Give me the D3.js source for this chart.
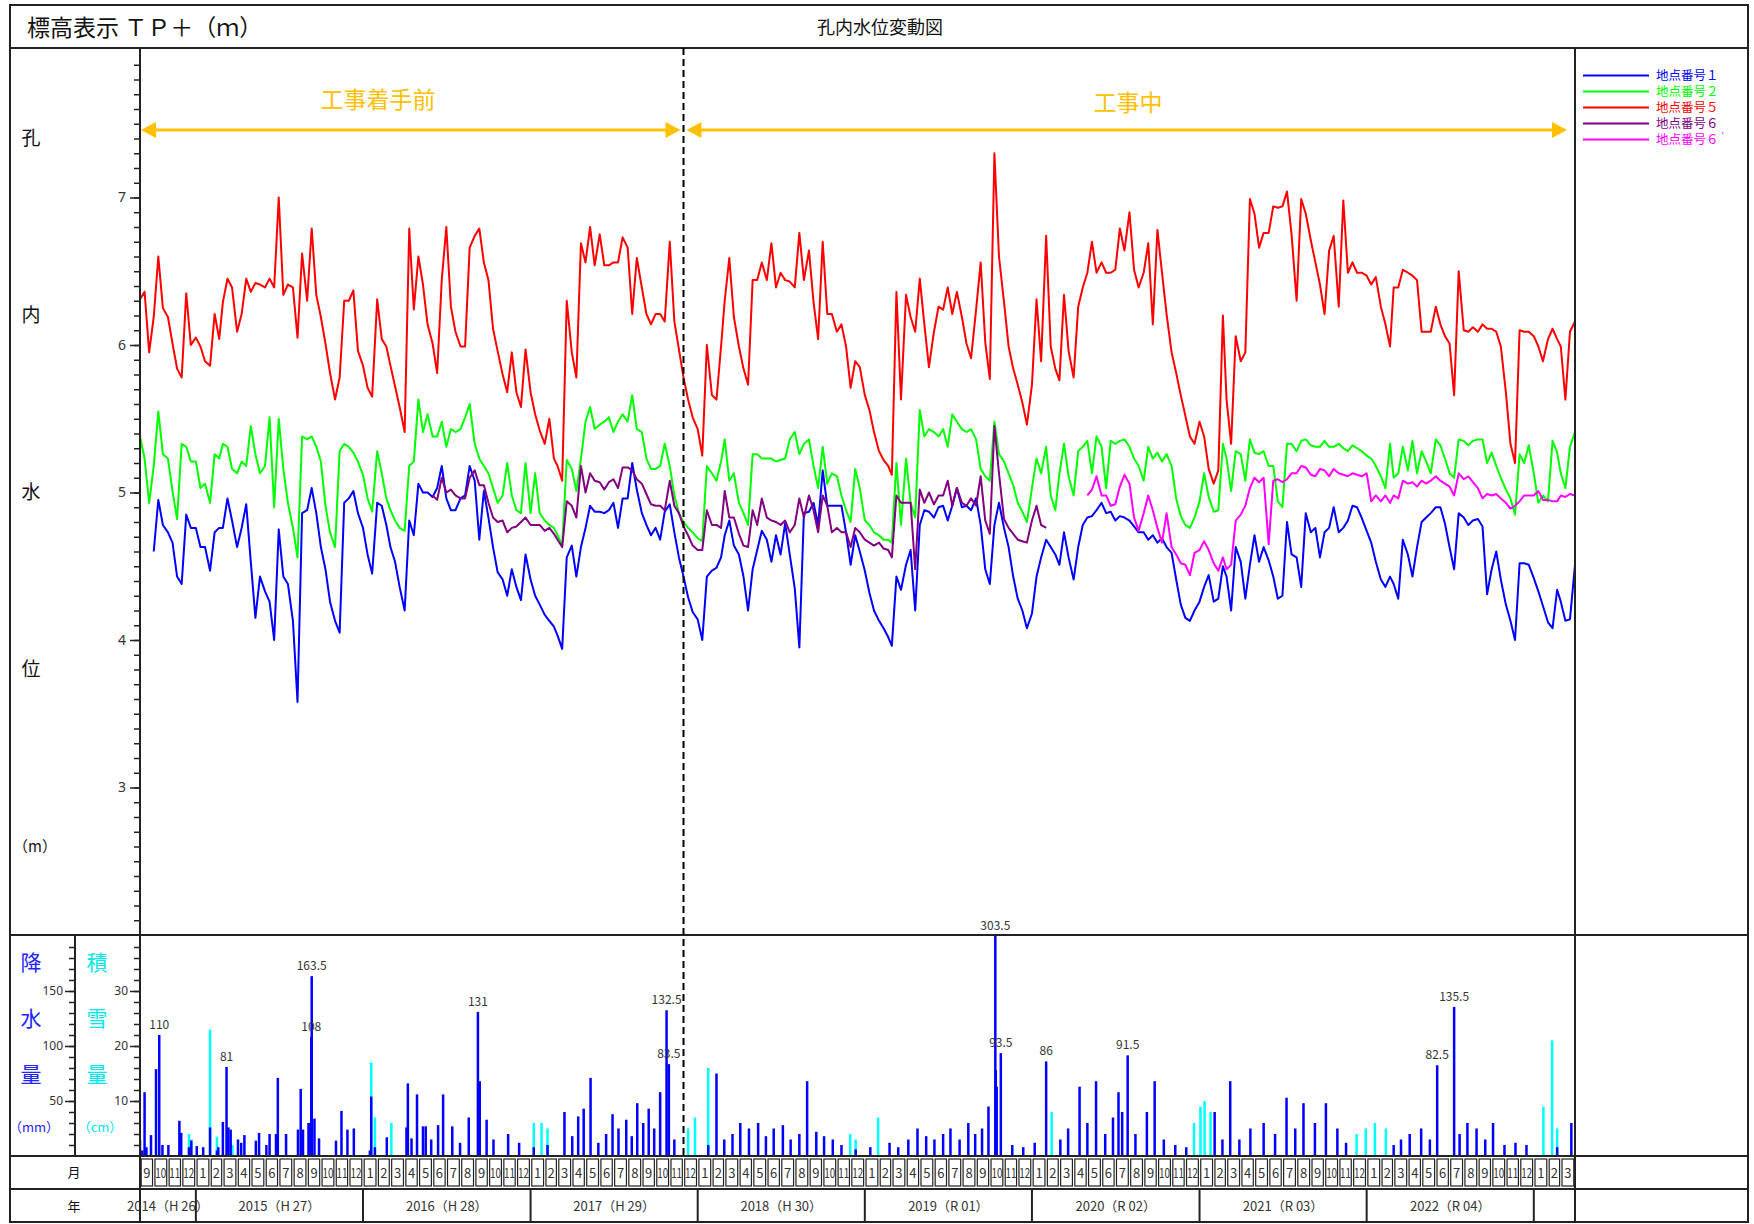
<!DOCTYPE html>
<meta charset="utf-8">
<style>
body { margin: 0; background: #fff; }
text { font-family: "Noto Sans CJK JP", "Noto Sans", sans-serif; }
</style>
<body>
<svg width="1754" height="1224"></svg>
<script src="https://d3js.org/d3.v7.min.js"></script>
<script>
// water level samples: 3 per month (1st, 11th, 21st), index 0 = 2014-09-01
var level1Start = 3;   // 地点番号1
var level1 = [4.6,4.95,4.78,4.73,4.66,4.43,4.38,4.85,4.76,4.76,4.63,4.63,4.47,4.73,4.76,4.76,4.96,4.81,
  4.63,4.76,4.92,4.53,4.15,4.43,4.33,4.26,4.0,4.75,4.43,4.38,4.13,3.58,4.86,4.88,5.03,4.86,
  4.63,4.48,4.26,4.13,4.05,4.93,4.96,5.01,4.86,4.76,4.58,4.45,4.93,4.91,4.78,4.63,4.53,4.36,
  4.2,4.81,4.71,5.06,5.0,5.0,4.97,5.03,5.18,4.96,4.88,4.88,4.96,4.98,5.18,5.08,4.68,5.01,
  4.83,4.63,4.46,4.41,4.3,4.48,4.36,4.27,4.58,4.41,4.3,4.24,4.17,4.13,4.09,4.03,3.94,4.56,
  4.64,4.43,4.63,4.76,4.91,4.87,4.87,4.86,4.88,4.93,4.76,4.96,4.96,5.2,5.02,4.86,4.78,4.71,
  4.76,4.68,4.87,4.92,4.73,4.56,4.43,4.29,4.19,4.14,4.0,4.43,4.47,4.49,4.56,4.71,4.81,4.64,
  4.58,4.43,4.2,4.48,4.61,4.74,4.68,4.53,4.71,4.58,4.79,4.58,4.35,3.95,4.86,4.87,4.93,4.78,
  5.15,4.91,4.91,4.91,4.91,4.73,4.51,4.71,4.6,4.47,4.32,4.2,4.13,4.08,4.02,3.96,4.43,4.34,
  4.51,4.61,4.2,4.78,4.88,4.87,4.83,4.9,4.91,4.81,4.91,5.03,4.9,4.91,4.88,4.96,4.78,4.48,
  4.38,4.78,4.93,4.76,4.63,4.43,4.28,4.2,4.08,4.18,4.43,4.56,4.68,4.63,4.58,4.51,4.73,4.56,
  4.41,4.63,4.78,4.83,4.84,4.88,4.93,4.86,4.87,4.81,4.84,4.83,4.81,4.77,4.73,4.73,4.68,4.71,
  4.66,4.69,4.63,4.59,4.41,4.24,4.15,4.13,4.2,4.26,4.36,4.44,4.26,4.28,4.5,4.43,4.2,4.63,
  4.53,4.28,4.51,4.71,4.53,4.63,4.54,4.43,4.28,4.3,4.8,4.58,4.56,4.36,4.86,4.73,4.76,4.56,
  4.73,4.76,4.9,4.73,4.76,4.81,4.91,4.9,4.83,4.74,4.66,4.53,4.41,4.36,4.43,4.38,4.28,4.68,
  4.58,4.43,4.63,4.8,4.83,4.86,4.9,4.9,4.79,4.63,4.48,4.86,4.83,4.78,4.81,4.82,4.77,4.31,
  4.48,4.6,4.41,4.24,4.13,4.0,4.52,4.52,4.51,4.42,4.33,4.23,4.12,4.08,4.34,4.26,4.13,4.14,4.51];

var level2Start = 0;   // 地点番号2
var level2 = [5.38,5.23,4.93,5.18,5.55,5.26,5.23,5.01,4.82,5.33,5.31,5.21,5.21,5.03,5.06,4.93,5.26,5.23,
  5.33,5.31,5.16,5.13,5.21,5.18,5.45,5.26,5.13,5.18,5.51,4.9,5.5,5.16,4.93,4.76,4.56,5.38,
  5.36,5.38,5.31,5.21,4.91,4.73,4.63,5.28,5.33,5.31,5.27,5.21,5.12,4.96,4.87,5.28,5.13,4.96,
  4.88,4.81,4.76,4.74,5.18,5.21,5.63,5.41,5.53,5.38,5.38,5.48,5.31,5.43,5.41,5.43,5.51,5.6,
  5.33,5.23,5.18,5.13,5.03,4.93,4.98,5.2,4.98,4.88,4.86,5.2,4.86,5.13,4.86,4.81,4.78,4.76,
  4.71,4.64,5.22,5.16,5.01,5.23,5.48,5.58,5.43,5.46,5.48,5.51,5.41,5.48,5.53,5.48,5.66,5.43,
  5.41,5.23,5.16,5.16,5.18,5.33,5.18,4.98,4.86,4.8,4.76,4.73,4.69,4.67,5.18,5.13,5.08,5.21,
  5.36,5.08,5.13,4.93,4.86,4.78,5.26,5.26,5.23,5.23,5.23,5.21,5.22,5.23,5.36,5.41,5.26,5.33,
  5.36,5.18,5.03,5.31,5.06,5.13,5.11,4.98,4.88,4.8,5.16,5.03,4.81,4.78,4.73,4.71,4.68,4.68,
  4.66,5.2,4.78,5.23,4.93,4.83,5.56,5.38,5.43,5.41,5.38,5.43,5.31,5.53,5.48,5.43,5.41,5.43,
  5.36,5.16,5.11,5.08,5.48,5.26,5.21,5.13,5.05,4.93,4.87,4.8,5.03,5.23,5.13,5.31,4.98,4.88,
  5.13,5.33,5.11,4.98,5.28,5.31,5.35,5.13,5.38,5.31,5.03,5.35,5.33,5.35,5.36,5.31,5.23,5.18,
  5.08,5.31,5.23,5.27,5.21,5.26,5.18,4.96,4.84,4.78,4.76,4.83,4.94,5.13,4.97,4.87,4.88,5.33,
  5.23,5.01,5.28,5.26,5.08,5.36,5.27,5.26,5.28,5.18,5.18,4.94,4.9,5.33,5.33,5.28,5.35,5.36,
  5.32,5.31,5.31,5.35,5.31,5.31,5.33,5.3,5.28,5.32,5.3,5.28,5.25,5.23,5.18,5.11,5.03,5.33,
  5.1,5.13,5.31,5.15,5.35,5.13,5.28,5.21,5.13,5.36,5.32,5.23,5.13,5.1,5.36,5.35,5.32,5.35,
  5.36,5.36,5.2,5.27,5.18,5.1,5.02,4.96,4.85,5.26,5.2,5.32,5.13,4.93,4.98,4.94,5.35,5.27,
  5.13,5.03,5.31,5.41];

var level5Start = 0;   // 地点番号5
var level5 = [6.31,6.36,5.95,6.19,6.6,6.25,6.19,6.01,5.84,5.78,6.35,6.0,6.05,5.99,5.89,5.86,6.21,6.04,
  6.29,6.45,6.39,6.09,6.21,6.45,6.36,6.42,6.41,6.39,6.45,6.39,7.0,6.34,6.41,6.39,6.05,6.62,
  6.3,6.79,6.34,6.19,6.01,5.81,5.63,5.78,6.3,6.3,6.37,5.96,5.86,5.71,5.65,6.31,6.04,5.99,
  5.86,5.72,5.58,5.41,6.79,6.24,6.6,6.41,6.14,6.01,5.81,6.44,6.8,6.26,6.09,5.99,5.99,6.66,
  6.74,6.79,6.56,6.44,6.11,5.96,5.8,5.68,5.95,5.68,5.58,5.97,5.68,5.53,5.42,5.33,5.5,5.23,
  5.18,5.08,6.3,5.95,5.78,6.69,6.56,6.8,6.54,6.75,6.54,6.54,6.56,6.56,6.73,6.66,6.21,6.59,
  6.39,6.21,6.14,6.21,6.21,6.16,6.7,6.16,5.97,5.78,5.63,5.51,5.43,5.25,6.0,5.66,5.63,5.99,
  6.3,6.59,6.19,5.99,5.84,5.73,6.44,6.44,6.56,6.44,6.69,6.39,6.49,6.44,6.43,6.39,6.76,6.44,
  6.64,6.29,6.04,6.7,6.21,6.21,6.09,6.14,5.99,5.71,5.89,5.85,5.66,5.56,5.41,5.28,5.22,5.18,
  5.12,6.36,5.63,6.34,6.19,6.09,6.45,6.14,5.85,6.09,6.26,6.24,6.39,6.21,6.36,6.19,6.01,5.91,
  6.24,6.56,6.02,5.77,7.3,6.6,6.29,5.99,5.84,5.73,5.61,5.46,5.73,6.31,5.89,6.74,5.99,5.84,
  5.76,6.34,5.96,5.78,6.26,6.39,6.49,6.7,6.49,6.56,6.49,6.49,6.51,6.79,6.64,6.9,6.51,6.39,
  6.49,6.69,6.14,6.78,6.49,6.21,5.95,5.81,5.66,5.52,5.38,5.33,5.48,5.38,5.16,5.06,5.15,6.2,
  5.63,5.33,6.06,5.89,5.95,6.99,6.89,6.66,6.76,6.76,6.94,6.93,6.94,7.04,6.75,6.3,6.99,6.89,
  6.71,6.56,6.41,6.21,6.64,6.74,6.26,6.98,6.49,6.56,6.49,6.49,6.47,6.41,6.46,6.26,6.14,5.99,
  6.39,6.39,6.51,6.49,6.47,6.44,6.09,6.09,6.09,6.26,6.14,6.06,6.01,5.66,6.5,6.1,6.09,6.12,
  6.09,6.14,6.11,6.11,6.09,5.99,5.68,5.33,5.2,6.1,6.09,6.09,6.06,5.99,5.89,6.04,6.11,6.04,
  5.99,5.63,6.09,6.16];

var level6Start = 63;  // 地点番号6
var level6 = [4.98,4.95,5.1,5.0,5.02,4.98,4.96,4.96,5.1,5.15,5.05,5.05,4.93,4.83,4.8,4.81,4.73,4.76,
  4.77,4.8,4.83,4.78,4.78,4.78,4.74,4.76,4.72,4.68,4.63,4.94,4.91,4.83,5.18,5.0,5.13,5.08,
  5.07,5.02,5.07,5.09,5.03,5.17,5.17,5.15,5.09,5.06,4.99,4.92,4.91,4.91,4.88,5.08,4.91,4.86,
  4.77,4.71,4.64,4.61,4.61,4.88,4.78,4.78,4.76,5.01,4.83,4.83,4.72,4.64,4.63,4.88,4.78,4.96,
  4.83,4.81,4.8,4.78,4.81,4.73,4.78,4.96,4.83,4.98,4.88,4.73,4.98,4.91,4.73,4.76,4.73,4.73,
  4.63,4.76,4.73,4.68,4.66,4.64,4.66,4.62,4.61,4.56,4.98,4.93,4.93,4.93,4.48,5.02,4.93,5.0,
  4.92,4.98,4.98,5.08,4.91,5.03,4.93,4.91,4.96,4.91,5.11,4.81,4.72,5.45,5.13,4.82,4.76,4.72,
  4.68,4.67,4.66,4.81,4.91,4.78,4.76];

var level6bStart = 204; // 地点番号6'
var level6b = [4.98,5.02,5.11,4.98,4.98,4.91,4.92,5.04,5.12,5.06,4.83,4.74,4.86,4.98,4.88,4.76,4.66,4.86,
  4.63,4.58,4.52,4.51,4.44,4.59,4.61,4.67,4.61,4.52,4.47,4.56,4.48,4.51,4.81,4.85,4.91,5.03,
  5.1,5.07,5.1,4.65,5.08,5.09,5.07,5.09,5.13,5.13,5.18,5.17,5.12,5.11,5.16,5.15,5.11,5.16,
  5.13,5.12,5.11,5.13,5.12,5.11,5.13,4.94,4.98,4.94,4.98,4.93,4.98,4.96,5.08,5.06,5.07,5.04,
  5.08,5.06,5.08,5.11,5.08,5.06,5.04,4.98,5.13,5.09,5.11,5.07,5.03,4.96,4.99,4.98,4.99,4.96,
  4.93,4.89,4.91,4.94,4.98,4.98,4.98,5.01,4.95,4.95,4.94,4.94,4.98,4.97,4.99,4.98];

// daily rainfall (mm)
var rainDays = ["2014-09-01","2014-09-06","2014-09-11","2014-09-15","2014-09-25","2014-10-06","2014-10-13","2014-10-20",
  "2014-11-02","2014-11-26","2014-11-30","2014-12-17","2014-12-22","2015-01-03","2015-01-17","2015-02-01","2015-02-16",
  "2015-02-19","2015-03-01","2015-03-09","2015-03-13","2015-03-18","2015-04-03","2015-04-10","2015-04-17","2015-05-12",
  "2015-05-19","2015-06-04","2015-06-11","2015-06-25","2015-06-29","2015-07-17","2015-08-12","2015-08-18","2015-08-23",
  "2015-09-04","2015-09-08","2015-09-10","2015-09-11","2015-09-17","2015-09-27","2015-11-03","2015-11-15","2015-11-28",
  "2015-12-12","2016-01-16","2016-01-19","2016-01-27","2016-02-22","2016-04-05","2016-04-08","2016-04-16","2016-04-28",
  "2016-05-11","2016-05-17","2016-05-29","2016-06-13","2016-06-24","2016-07-14","2016-07-31","2016-08-19","2016-09-08",
  "2016-09-12","2016-09-27","2016-10-12","2016-11-13","2016-12-07","2017-01-08","2017-02-07","2017-03-16","2017-04-02",
  "2017-04-15","2017-04-27","2017-05-12","2017-05-29","2017-06-15","2017-06-29","2017-07-12","2017-07-29","2017-08-10",
  "2017-08-22","2017-09-04","2017-09-16","2017-09-28","2017-10-11","2017-10-25","2017-10-30","2017-11-11","2018-01-24",
  "2018-02-11","2018-02-28","2018-03-18","2018-04-04","2018-04-23","2018-05-13","2018-05-30","2018-06-16","2018-07-06",
  "2018-07-23","2018-08-11","2018-08-28","2018-09-17","2018-10-04","2018-10-23","2018-11-11","2018-12-12","2019-01-13",
  "2019-02-24","2019-03-15","2019-04-06","2019-04-26","2019-05-15","2019-06-02","2019-06-21","2019-07-07","2019-07-27",
  "2019-08-15","2019-08-30","2019-09-14","2019-09-28","2019-10-13","2019-10-14","2019-10-16","2019-10-25","2019-11-19",
  "2019-12-13","2020-01-07","2020-02-01","2020-03-03","2020-03-20","2020-04-14","2020-05-01","2020-05-20","2020-06-09",
  "2020-06-26","2020-07-08","2020-07-16","2020-07-28","2020-08-14","2020-09-08","2020-09-25","2020-10-15","2020-11-09",
  "2020-12-03","2021-02-03","2021-02-20","2021-03-09","2021-03-29","2021-04-22","2021-05-21","2021-06-15","2021-07-10",
  "2021-07-29","2021-08-16","2021-09-10","2021-10-04","2021-10-29","2021-11-17","2022-03-01","2022-03-17","2022-04-05",
  "2022-04-30","2022-05-19","2022-06-04","2022-07-11","2022-07-23","2022-08-09","2022-08-29","2022-09-17","2022-10-04",
  "2022-10-29","2022-11-22","2022-12-16","2023-02-21","2023-03-24"];
var rainMm = [14.5,5,58,8,19,79,110,10,
  10,32,21,8,14,9,8,26,5,
  8,31,81,26,24,15,12,19,14,
  21,10,20,20,71,20,24,61,24,
  30,30,108,163.5,34,16,14,41,24,
  25,5,54,8,17,26,66,16,56,
  27,27,15,28,56,27,12,35,131,
  68,33,15,20,12,8,10,40,18,
  36,43,71,12,20,38,25,33,18,
  48,30,43,25,58,132.5,83.5,15,10,
  75,15,20,30,25,30,18,25,28,
  15,20,68,22,18,15,10,6,8,
  12,8,15,25,18,15,20,25,15,
  30,20,25,45,303.5,78,63,93.5,10,
  8,12,86,15,25,63,30,68,20,
  35,58,40,91.5,20,40,68,15,10,
  8,40,15,68,15,25,30,20,53,
  25,48,30,48,25,12,10,15,20,
  25,15,82.5,135.5,20,30,25,15,30,
  10,12,10,8,30];

// snow depth (cm)
var snowDays = ["2014-12-17","2014-12-22","2015-02-01","2015-02-16","2015-03-22","2016-01-19","2016-01-27","2016-03-03",
  "2017-01-08","2017-01-25","2017-02-07","2017-12-11","2017-12-26","2018-01-24","2018-11-30","2018-12-12","2019-01-30",
  "2020-02-13","2020-12-20","2021-01-03","2021-01-12","2021-01-25","2021-12-10","2021-12-30","2022-01-19","2022-02-12",
  "2023-01-22","2023-02-10","2023-02-21"];
var snowCm = [4,3,23,3.5,2,17,7,6,
  6,6,5,5,7,16,4,3,7,
  8,6,9,10,8,4,5,6,5,
  9,21,5];

var monthLabels = ["1","2","3","4","5","6","7","8","9","10","11","12"];
var yearLabels = ["2014（H 26）","2015（H 27）","2016（H 28）","2017（H 29）","2018（H 30）",
  "2019（R 01）","2020（R 02）","2021（R 03）","2022（R 04）",""];

var series = [
  {name: "地点番号１", values: level1, start: level1Start, color: "#0000ff"},
  {name: "地点番号２", values: level2, start: level2Start, color: "#00ff00"},
  {name: "地点番号５", values: level5, start: level5Start, color: "#ff0000"},
  {name: "地点番号６", values: level6, start: level6Start, color: "#800080"},
  {name: "地点番号６", values: level6b, start: level6bStart, color: "#ff00ff", prime: true}
];

var svg = d3.select("svg");
var L = 140, R = 1575, plotTop = 48, plotBottom = 935, barBottom = 1156, monthBottom = 1189, frameBottom = 1222;
var ink = "#222";

function sampleDate(i) { return new Date(2014, 8 + Math.floor(i / 3), 1 + (i % 3) * 10); }
var parse = d3.timeParse("%Y-%m-%d");

var x = d3.scaleTime().domain([new Date(2014, 8, 1), new Date(2023, 3, 1)]).range([L, R]);
var y = d3.scaleLinear().domain([2, 8]).range([plotBottom, 50]);
var yRain = d3.scaleLinear().domain([0, 200]).range([barBottom, 936]);
var ySnow = d3.scaleLinear().domain([0, 40]).range([barBottom, 936]);

var defs = svg.append("defs");
defs.append("clipPath").attr("id", "plotClip")
  .append("rect").attr("x", L).attr("y", plotTop).attr("width", R - L).attr("height", plotBottom - plotTop);
defs.append("clipPath").attr("id", "barClip")
  .append("rect").attr("x", L).attr("y", plotBottom + 1).attr("width", R - L).attr("height", barBottom - plotBottom - 1);

// water level lines
var line = d3.line().x(d => x(d[0])).y(d => y(d[1]));
var lines = svg.append("g").attr("clip-path", "url(#plotClip)");
series.forEach(function(s) {
  var pts = s.values.map((v, k) => [sampleDate(s.start + k), v]);
  lines.append("path").datum(pts)
    .attr("d", line).attr("fill", "none")
    .attr("stroke", s.color).attr("stroke-width", 2).attr("stroke-linejoin", "round");
});

// snow and rain bars
var bars = svg.append("g").attr("clip-path", "url(#barClip)");
bars.selectAll(".snow").data(snowDays.map((d, k) => [parse(d), snowCm[k]])).enter()
  .append("rect").attr("class", "snow")
  .attr("x", d => x(d[0]) - 1.25).attr("width", 2.5)
  .attr("y", d => ySnow(d[1])).attr("height", d => barBottom - ySnow(d[1]))
  .attr("fill", "#00ffff");
var rain = rainDays.map((d, k) => [parse(d), rainMm[k]]);
bars.selectAll(".rain").data(rain).enter()
  .append("rect").attr("class", "rain")
  .attr("x", d => x(d[0]) - 1.25).attr("width", 2.5)
  .attr("y", d => yRain(d[1])).attr("height", d => barBottom - yRain(d[1]))
  .attr("fill", "#0000ff");
svg.selectAll(".rainLabel").data(rain.filter(d => d[1] >= 80)).enter()
  .append("text")
  .attr("x", d => x(d[0])).attr("y", d => Math.max(yRain(d[1]), 936) - 6)
  .attr("text-anchor", "middle").attr("font-size", 12).attr("fill", "#333")
  .text(d => d[1]);

// y axis of water level
var yAxis = svg.append("g").attr("transform", "translate(" + L + ",0)");
yAxis.call(d3.axisLeft(y).tickValues(d3.range(21, 80).map(v => v / 10)).tickSize(6).tickFormat(""));
yAxis.append("g").call(d3.axisLeft(y).tickValues([3, 4, 5, 6, 7]).tickSize(10).tickPadding(4).tickFormat(d3.format("d")));
yAxis.selectAll("text").attr("font-size", 14).attr("fill", "#333").style("font-family", "Noto Sans");
yAxis.selectAll("path").remove();
yAxis.selectAll("line").attr("stroke", ink).attr("stroke-width", 1.5);

// rain and snow axes
var rAxis = svg.append("g").attr("transform", "translate(75,0)");
rAxis.call(d3.axisLeft(yRain).tickValues(d3.range(10, 200, 10)).tickSize(6).tickFormat(""));
rAxis.append("g").call(d3.axisLeft(yRain).tickValues([50, 100, 150]).tickSize(10).tickPadding(2).tickFormat(d3.format("d")));
var sAxis = svg.append("g").attr("transform", "translate(" + L + ",0)");
sAxis.call(d3.axisLeft(ySnow).tickValues(d3.range(2, 40, 2)).tickSize(6).tickFormat(""));
sAxis.append("g").call(d3.axisLeft(ySnow).tickValues([10, 20, 30]).tickSize(10).tickPadding(2).tickFormat(d3.format("d")));
[rAxis, sAxis].forEach(function(a) {
  a.selectAll("path").remove();
  a.selectAll("line").attr("stroke", ink).attr("stroke-width", 1.5);
  a.selectAll("text").attr("font-size", 12).attr("fill", "#333").style("font-family", "Noto Sans");
});

// frame and grid lines
var frame = svg.append("g").attr("stroke", ink).attr("stroke-width", 2).attr("fill", "none");
frame.append("rect").attr("x", 10).attr("y", 5).attr("width", 1738).attr("height", frameBottom - 5);
[plotTop, plotBottom, barBottom, monthBottom].forEach(function(h) {
  frame.append("line").attr("x1", 10).attr("x2", 1748).attr("y1", h).attr("y2", h);
});
frame.append("line").attr("x1", L).attr("x2", L).attr("y1", plotTop).attr("y2", frameBottom);
frame.append("line").attr("x1", R).attr("x2", R).attr("y1", plotTop).attr("y2", frameBottom);
frame.append("line").attr("x1", 75).attr("x2", 75).attr("y1", plotBottom).attr("y2", barBottom);

// month cells
var months = d3.timeMonth.range(new Date(2014, 8, 1), new Date(2023, 3, 1));
var mg = svg.append("g");
mg.selectAll("rect").data(months).enter().append("rect")
  .attr("x", d => x(d) + 1.2).attr("width", d => x(d3.timeMonth.offset(d, 1)) - x(d) - 2.4)
  .attr("y", barBottom + 3).attr("height", monthBottom - barBottom - 6)
  .attr("fill", "none").attr("stroke", ink).attr("stroke-width", 1.2);
mg.selectAll("text").data(months).enter().append("text")
  .attr("x", d => (x(d) + x(d3.timeMonth.offset(d, 1))) / 2)
  .attr("y", (barBottom + monthBottom) / 2 + 5)
  .attr("text-anchor", "middle").attr("font-size", 13).attr("fill", "#333")
  .attr("textLength", d => d.getMonth() >= 9 ? 11 : null)
  .attr("lengthAdjust", "spacingAndGlyphs")
  .text(d => monthLabels[d.getMonth()]);

// year cells
var years = d3.range(2014, 2024);
var yg = svg.append("g");
years.forEach(function(yr, k) {
  var x0 = Math.max(x(new Date(yr, 0, 1)), L), x1 = Math.min(x(new Date(yr + 1, 0, 1)), R);
  if (yr > 2014) yg.append("line").attr("x1", x0).attr("x2", x0).attr("y1", monthBottom).attr("y2", frameBottom)
    .attr("stroke", ink).attr("stroke-width", 2);
  yg.append("text").attr("x", (x0 + x1) / 2).attr("y", (monthBottom + frameBottom) / 2 + 5)
    .attr("text-anchor", "middle").attr("font-size", 13).attr("fill", "#333").text(yearLabels[k]);
});

// construction start marker
var startDay = new Date(2017, 11, 1);
svg.append("line").attr("x1", x(startDay)).attr("x2", x(startDay)).attr("y1", plotTop).attr("y2", barBottom)
  .attr("stroke", "#000").attr("stroke-width", 2).attr("stroke-dasharray", "7,4");

var amber = "#ffc000";
function arrow(x0, x1, label) {
  var ay = 130, g = svg.append("g");
  g.append("line").attr("x1", x0 + 12).attr("x2", x1 - 12).attr("y1", ay).attr("y2", ay)
    .attr("stroke", amber).attr("stroke-width", 3);
  g.append("path").attr("d", "M" + x0 + "," + ay + "l15,-8v16z").attr("fill", amber);
  g.append("path").attr("d", "M" + x1 + "," + ay + "l-15,-8v16z").attr("fill", amber);
  g.append("text").attr("x", label[1]).attr("y", label[2]).attr("text-anchor", "middle")
    .attr("font-size", 23).attr("fill", amber).text(label[0]);
}
arrow(L + 1, x(startDay) - 3, ["工事着手前", 378, 108]);
arrow(x(startDay) + 3, 1567, ["工事中", 1128, 111]);

// header
svg.append("text").attr("x", 27).attr("y", 36).attr("font-size", 23).attr("fill", "#111").text("標高表示 ＴＰ＋（ｍ）");
svg.append("text").attr("x", 880).attr("y", 34).attr("text-anchor", "middle").attr("font-size", 18).attr("fill", "#111").text("孔内水位変動図");

// left labels
[["孔", 138], ["内", 315], ["水", 492], ["位", 669]].forEach(function(t) {
  svg.append("text").attr("x", 31).attr("y", t[1] + 7).attr("text-anchor", "middle")
    .attr("font-size", 19).attr("fill", "#111").text(t[0]);
});
svg.append("text").attr("x", 35).attr("y", 852).attr("text-anchor", "middle").attr("font-size", 15).attr("fill", "#111").text("（m）");

[["降", 962], ["水", 1018], ["量", 1074]].forEach(function(t) {
  svg.append("text").attr("x", 31).attr("y", t[1] + 8).attr("text-anchor", "middle")
    .attr("font-size", 21).attr("fill", "#2323ff").text(t[0]);
});
svg.append("text").attr("x", 34).attr("y", 1132).attr("text-anchor", "middle").attr("font-size", 13).attr("fill", "#2323ff").text("（mm）");
[["積", 962], ["雪", 1018], ["量", 1074]].forEach(function(t) {
  svg.append("text").attr("x", 97).attr("y", t[1] + 8).attr("text-anchor", "middle")
    .attr("font-size", 21).attr("fill", "#00e8e8").text(t[0]);
});
svg.append("text").attr("x", 100).attr("y", 1132).attr("text-anchor", "middle").attr("font-size", 13).attr("fill", "#00e8e8").text("（cm）");

svg.append("text").attr("x", 74).attr("y", 1177).attr("text-anchor", "middle").attr("font-size", 13).attr("fill", "#111").text("月");
svg.append("text").attr("x", 74).attr("y", 1211).attr("text-anchor", "middle").attr("font-size", 13).attr("fill", "#111").text("年");

// legend
var lg = svg.append("g");
series.forEach(function(s, k) {
  var ly = 75.5 + k * 16;
  lg.append("line").attr("x1", 1583).attr("x2", 1649).attr("y1", ly).attr("y2", ly)
    .attr("stroke", s.color).attr("stroke-width", 2);
  var t = lg.append("text").attr("x", 1656).attr("y", ly + 4.5).attr("font-size", 12.5).attr("fill", s.color).text(s.name);
  if (s.prime) t.append("tspan").attr("dx", 3).attr("dy", -5).attr("font-size", 9).text("'");
});
</script>
</body>
